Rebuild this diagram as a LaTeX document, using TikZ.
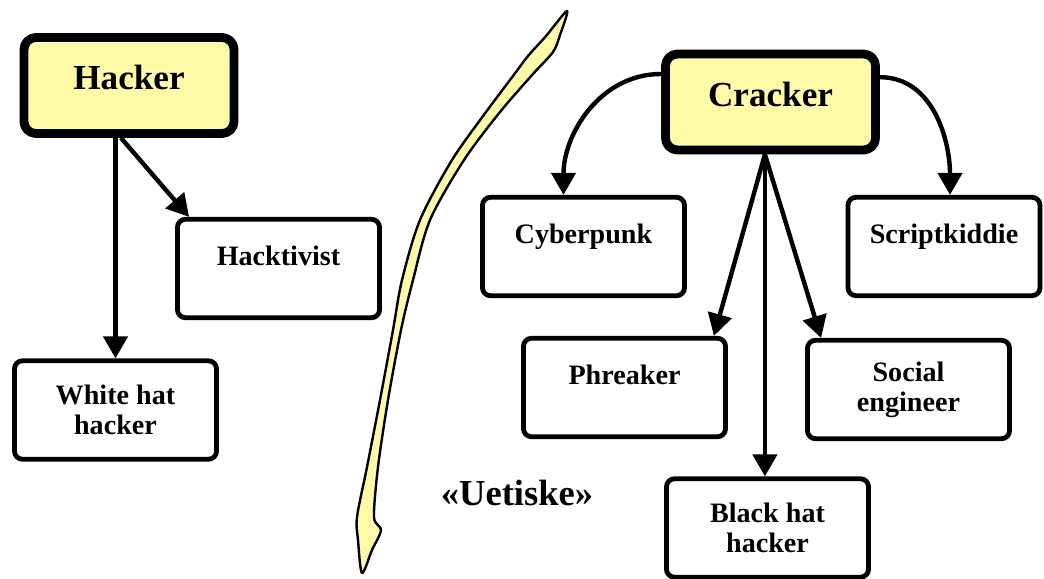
\documentclass[tikz,border=0pt]{standalone}
\usepackage{fontspec}
\setmainfont{Liberation Serif}
\usetikzlibrary{arrows.meta}

\definecolor{paleyellow}{RGB}{255,250,165}

\begin{document}
\begin{tikzpicture}[x=0.025cm, y=-0.025cm, line join=round,
  >={Triangle[length=0.55cm,width=0.6cm]},
  main node/.style={draw, fill=paleyellow, line width=0.22cm, rounded corners=0.3cm, minimum width=5.25cm, minimum height=2.4cm, font=\fontsize{25}{30}\selectfont\bfseries, text depth=0.4cm},
  sub node/.style={draw, line width=0.12cm, rounded corners=0.2cm, minimum width=5.05cm, minimum height=2.46cm, font=\fontsize{20}{21.5}\selectfont\bfseries, align=center},
  one line/.style={text depth=0.65cm},
  link/.style={->, line width=0.11cm}]
  \useasboundingbox (0,0) rectangle (1044,578);
  % the yellow divider
  \draw[fill=paleyellow, line width=0.06cm] plot[smooth cycle, tension=0.5] coordinates {
    (567,11) (546,36) (528,56) (513,76) (486,112) (452,160) (420,220) (402,280)
    (393,330) (380,400) (367,467) (357,517) (358,540) (362,573)
    (372,550) (381,530) (374,517) (378,467) (388,400) (401,330) (413,280)
    (430,220) (464,160) (500,112) (533,74) (553,52) (560,35)};
  \node[main node] (h1) at (129, 85.5) {Hacker};
  \node[main node] (c1) at (770.5, 102) {Cracker};
  \node[sub node, one line] (h2) at (278.5, 268.5) {Hacktivist};
  \node[sub node] (h3) at (115.5, 410) {White hat\\hacker};
  \node[sub node, one line] (c2) at (583.5, 246.5) {Cyberpunk};
  \node[sub node, one line, minimum width=4.8cm] (c3) at (944, 246.5) {Scriptkiddie};
  \node[sub node, one line] (c4) at (624.5, 387.5) {Phreaker};
  \node[sub node] (c5) at (908.5, 389.5) {Social\\engineer};
  \node[sub node] (c6) at (767.5, 528) {Black hat\\hacker};
  \node[font=\fontsize{26}{30}\selectfont\bfseries] (u) at (517, 493) {«Uetiske»};
  \coordinate (hs) at ([xshift=-0.2cm]h1.south);
  \coordinate (cs) at ([xshift=-0.14cm]c1.south);
  \path[link]
    (h1.south -| h3.north) edge (h3.north)
    (hs) edge ([xshift=0.35cm]h2.north west)
    ([yshift=0.7cm]c1.west) edge [out=180, in=90] ([xshift=-0.5cm]c2.north)
    ([yshift=0.62cm]c1.east) edge [out=0, in=90] ([xshift=0.15cm]c3.north)
    (cs) edge ([xshift=-0.35cm]c4.north east)
    (cs) edge ([xshift=0.4cm]c5.north west)
    (cs) edge (cs |- c6.north);
\end{tikzpicture}
\end{document}
